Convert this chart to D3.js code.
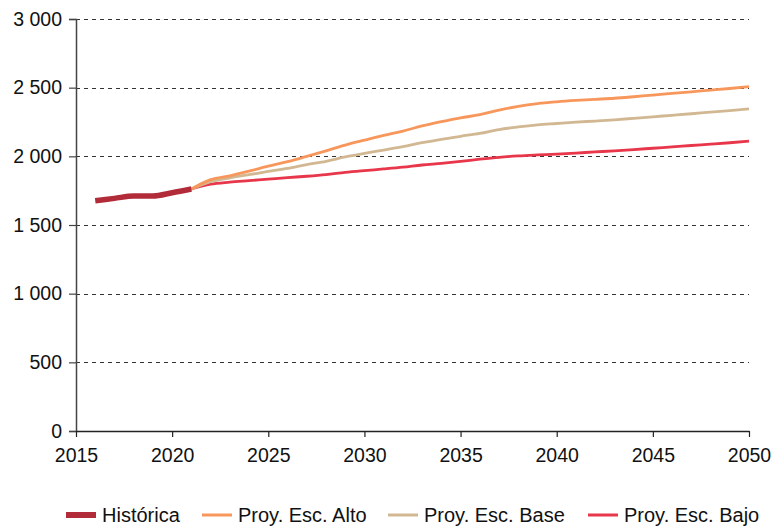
<!DOCTYPE html>
<html>
<head>
<meta charset="utf-8">
<script src="https://cdn.jsdelivr.net/npm/d3@7"></script>
<style>
  html, body { margin: 0; padding: 0; background: #fff; }
  svg { display: block; font-family: "Liberation Sans", Arial, sans-serif; }
</style>
</head>
<body>
<svg id="chart" width="774" height="527"></svg>
<script>
// ---- Data ----
const histYears = [2016, 2017, 2018, 2019, 2020, 2021];
const histValues = [1677, 1694, 1711, 1711, 1735, 1762];

const projYears = [2021, 2022, 2023, 2024, 2025, 2026, 2027, 2028, 2029, 2030,
  2031, 2032, 2033, 2034, 2035, 2036, 2037, 2038, 2039, 2040,
  2041, 2042, 2043, 2044, 2045, 2046, 2047, 2048, 2049, 2050];
const altoValues = [1762, 1830, 1858, 1892, 1928, 1961, 2000, 2040, 2082, 2118,
  2153, 2184, 2221, 2252, 2280, 2303, 2336, 2364, 2384, 2397,
  2407, 2415, 2423, 2434, 2446, 2458, 2470, 2482, 2494, 2507];
const baseValues = [1762, 1816, 1843, 1866, 1890, 1912, 1940, 1964, 1996, 2021,
  2046, 2071, 2099, 2124, 2146, 2167, 2195, 2214, 2229, 2239,
  2249, 2257, 2266, 2277, 2288, 2299, 2310, 2322, 2333, 2345];
const bajoValues = [1762, 1797, 1812, 1823, 1834, 1845, 1855, 1867, 1883, 1896,
  1908, 1921, 1937, 1949, 1963, 1979, 1993, 2003, 2010, 2016,
  2024, 2032, 2040, 2049, 2059, 2069, 2079, 2089, 2099, 2110];

const yTicks = [0, 500, 1000, 1500, 2000, 2500, 3000];
const xTicks = [2015, 2020, 2025, 2030, 2035, 2040, 2045, 2050];

const seriesNames = ["Histórica", "Proy. Esc. Alto", "Proy. Esc. Base", "Proy. Esc. Bajo"];
const seriesColors = ["#b22b38", "#f8975c", "#d2b892", "#e8364b"];

// ---- Layout ----
const svg = d3.select("#chart");
const mLeft = 76, mRight = 749, mTop = 19, mBottom = 431;
const x = d3.scaleLinear().domain([2015, 2050]).range([mLeft, mRight]);
const y = d3.scaleLinear().domain([0, 3000]).range([mBottom, mTop]);

const fmt = v => d3.format(",")(v).replace(/,/g, " ");

// grid lines
svg.append("g")
  .selectAll("line")
  .data(yTicks.filter(d => d > 0))
  .join("line")
  .attr("x1", mLeft).attr("x2", mRight)
  .attr("y1", d => Math.round(y(d)) + 0.5).attr("y2", d => Math.round(y(d)) + 0.5)
  .attr("stroke", "#333")
  .attr("stroke-width", 1)
  .attr("stroke-dasharray", "4,4");

// y axis
const yAxis = svg.append("g")
  .attr("transform", `translate(${mLeft},0)`)
  .call(d3.axisLeft(y).tickValues(yTicks).tickFormat(fmt).tickSize(7).tickPadding(7));
yAxis.select(".domain").attr("stroke", "#444").attr("stroke-width", 1.5);
yAxis.selectAll(".tick line").attr("stroke", "#444").attr("stroke-width", 1.2);
yAxis.selectAll("text").attr("font-size", 19.5).attr("fill", "#111")
  .attr("font-family", "Liberation Sans, Arial, sans-serif");

// x axis
const xAxis = svg.append("g")
  .attr("transform", `translate(0,${mBottom})`)
  .call(d3.axisBottom(x).tickValues(xTicks).tickFormat(d3.format("d")).tickSizeInner(6).tickSizeOuter(0).tickPadding(11));
xAxis.select(".domain").attr("stroke", "#222").attr("stroke-width", 1.5);
xAxis.selectAll(".tick line").attr("stroke", "#222").attr("stroke-width", 1.2);
xAxis.selectAll("text").attr("font-size", 19.5).attr("fill", "#111")
  .attr("font-family", "Liberation Sans, Arial, sans-serif");

// lines
const line = d3.line().x(d => x(d[0])).y(d => y(d[1])).curve(d3.curveMonotoneX);

const proj = [
  { vals: bajoValues, color: seriesColors[3] },
  { vals: baseValues, color: seriesColors[2] },
  { vals: altoValues, color: seriesColors[1] }
];
proj.forEach(s => {
  svg.append("path")
    .datum(projYears.map((yr, i) => [yr, s.vals[i]]))
    .attr("fill", "none")
    .attr("stroke", s.color)
    .attr("stroke-width", 2.8)
    .attr("d", line);
});
svg.append("path")
  .datum(histYears.map((yr, i) => [yr, histValues[i]]))
  .attr("fill", "none")
  .attr("stroke", seriesColors[0])
  .attr("stroke-width", 5.5)
  .attr("d", line);

// legend
const legendX = [66, 202, 388, 588];
const legendY = 515;
const lg = svg.append("g");
seriesNames.forEach((name, i) => {
  lg.append("line")
    .attr("x1", legendX[i]).attr("x2", legendX[i] + 30)
    .attr("y1", legendY).attr("y2", legendY)
    .attr("stroke", seriesColors[i])
    .attr("stroke-width", i === 0 ? 6 : 3);
  lg.append("text")
    .attr("x", legendX[i] + 36)
    .attr("y", legendY + 7)
    .attr("font-size", 20)
    .attr("fill", "#111")
    .text(name);
});
</script>
</body>
</html>
